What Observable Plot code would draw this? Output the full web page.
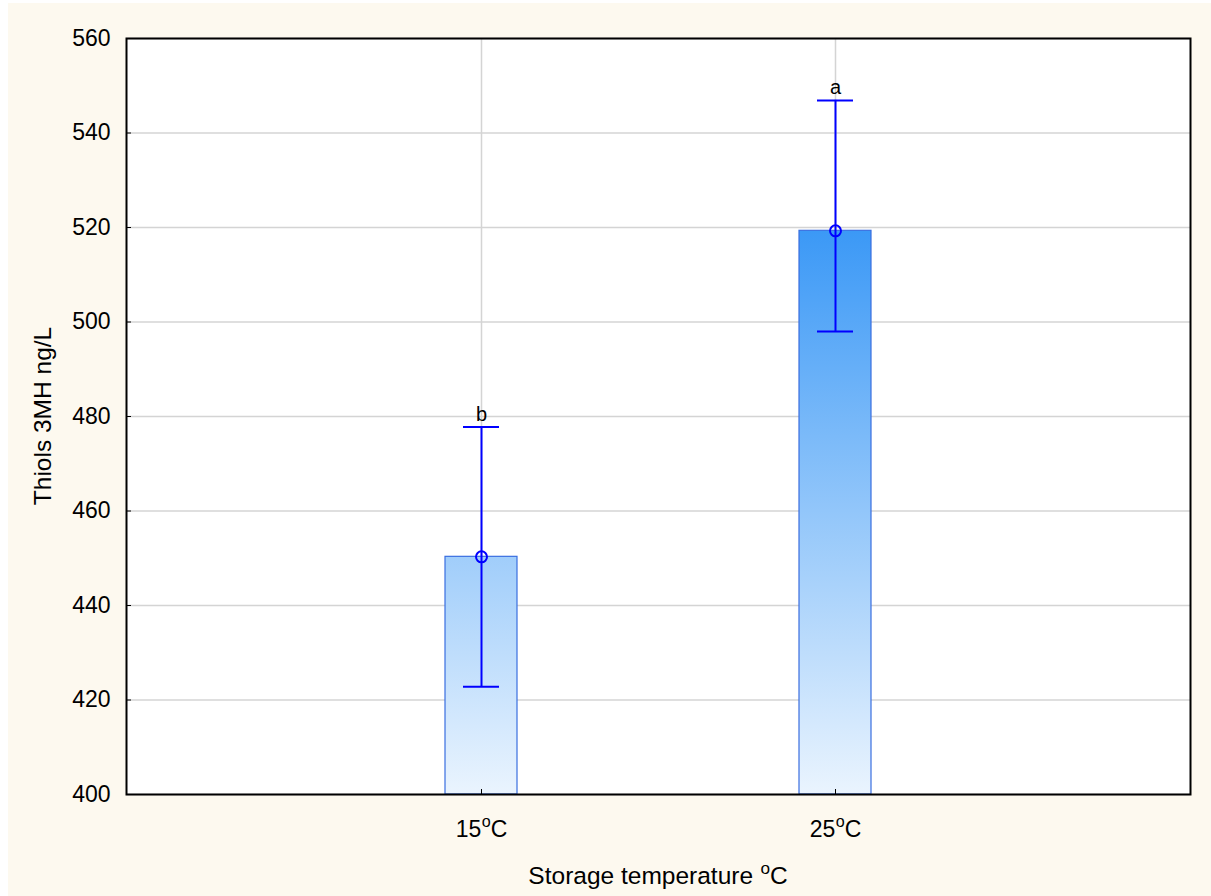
<!DOCTYPE html>
<html>
<head>
<meta charset="utf-8">
<script src="https://cdn.jsdelivr.net/npm/d3@7"></script>
<script src="https://cdn.jsdelivr.net/npm/@observablehq/plot@0.6"></script>
<style>
  html, body { margin: 0; padding: 0; background: #ffffff; overflow: hidden; }
  #chart { margin: 3px 0 0 8px; }
  #chart svg { display: block; }
</style>
</head>
<body>
<div id="chart"></div>
<script>
const categories = ["15°C", "25°C"];
const means = [450.3, 519.3];
const lower = [422.8, 498.0];
const upper = [477.8, 546.9];
const letters = ["b", "a"];
const yTicks = [400, 420, 440, 460, 480, 500, 520, 540, 560];
const yLabel = "Thiols 3MH ng/L";
const xLabel = "Storage temperature °C";

const data = categories.map((c, i) => ({cat: c, mean: means[i], lo: lower[i], hi: upper[i], letter: letters[i]}));

const blue = "#0000ff";
const font = "'Liberation Sans', Arial, sans-serif";

const plot = Plot.plot({
  width: 1203,
  height: 893,
  marginLeft: 118,
  marginRight: 21,
  marginTop: 35,
  marginBottom: 102,
  style: {background: "#fdf9ef", fontFamily: font, fontSize: "23px", color: "#000"},
  x: {type: "band", domain: categories, paddingInner: 0.797, paddingOuter: 0.8985, label: null},
  y: {domain: [400, 560], label: null},
  marks: [
    Plot.frame({fill: "white", stroke: "none"}),
    Plot.gridY(yTicks, {stroke: "#d4d4d4", strokeOpacity: 1, strokeWidth: 1.5}),
    Plot.gridX(categories, {stroke: "#d4d4d4", strokeOpacity: 1, strokeWidth: 1.5}),
    Plot.barY(data, {x: "cat", y1: 400, y2: "mean", fill: "url(#barGrad)", stroke: "#3a6ee0", strokeWidth: 1.2}),
    Plot.ruleX(data, {x: "cat", y1: "lo", y2: "hi", stroke: blue, strokeWidth: 2}),
    Plot.tickY(data, {x: "cat", y: "lo", stroke: blue, strokeWidth: 2, insetLeft: 18, insetRight: 18}),
    Plot.tickY(data, {x: "cat", y: "hi", stroke: blue, strokeWidth: 2, insetLeft: 18, insetRight: 18}),
    Plot.dot(data, {x: "cat", y: "mean", r: 5.5, stroke: blue, strokeWidth: 2, fill: "none"}),
    Plot.text(data, {x: "cat", y: "hi", text: "letter", lineAnchor: "bottom", dy: -6, fontSize: 20, fill: "#000"}),
    Plot.axisY(yTicks, {tickSize: -5, tickPadding: 21, fontSize: 23, label: null}),
    Plot.axisX(categories, {tickSize: -5, tickPadding: 31, fontSize: 23, label: null}),
    Plot.frame({stroke: "#000", strokeWidth: 2})
  ]
});

document.getElementById("chart").appendChild(plot);

const ys = plot.scale("y");
const xs = plot.scale("x");
const svg = d3.select(plot);

// Gradient in user space tied to the y scale
const defs = svg.insert("defs", ":first-child");
const grad = defs.append("linearGradient")
  .attr("id", "barGrad")
  .attr("gradientUnits", "userSpaceOnUse")
  .attr("x1", 0).attr("x2", 0)
  .attr("y1", ys.apply(400)).attr("y2", ys.apply(520));
grad.append("stop").attr("offset", "0%").attr("stop-color", "#eaf4fe");
grad.append("stop").attr("offset", "100%").attr("stop-color", "#3a98f6");

// Axis titles
const x0 = 118, x1 = 1203 - 21, y0 = 35, y1 = 893 - 102;
svg.append("text")
  .attr("transform", `translate(${(x0 + x1) / 2},${893 - 12}) `)
  .attr("text-anchor", "middle")
  .attr("font-family", font).attr("font-size", 24.5).attr("fill", "#000")
  .text(xLabel);
svg.append("text")
  .attr("transform", `translate(${34 + 9},${(y0 + y1) / 2}) rotate(-90)`)
  .attr("text-anchor", "middle")
  .attr("font-family", font).attr("font-size", 24.5).attr("fill", "#000")
  .text(yLabel);

// Superscript "o" for degree signs
function superscriptDegree(textEl) {
  const t = d3.select(textEl);
  const s = t.text();
  const fs = parseFloat(getComputedStyle(textEl).fontSize) || 23;
  const [a, b] = s.split("°");
  t.text(null);
  const shift = fs * 0.42;
  t.append("tspan").text(a);
  t.append("tspan").attr("dy", -shift).attr("dx", 0.5).attr("font-size", fs * 0.7).text("o");
  t.append("tspan").attr("dy", shift).text(b);
}
svg.selectAll("text").each(function() {
  if (this.textContent.includes("°")) superscriptDegree(this);
});
</script>
</body>
</html>
